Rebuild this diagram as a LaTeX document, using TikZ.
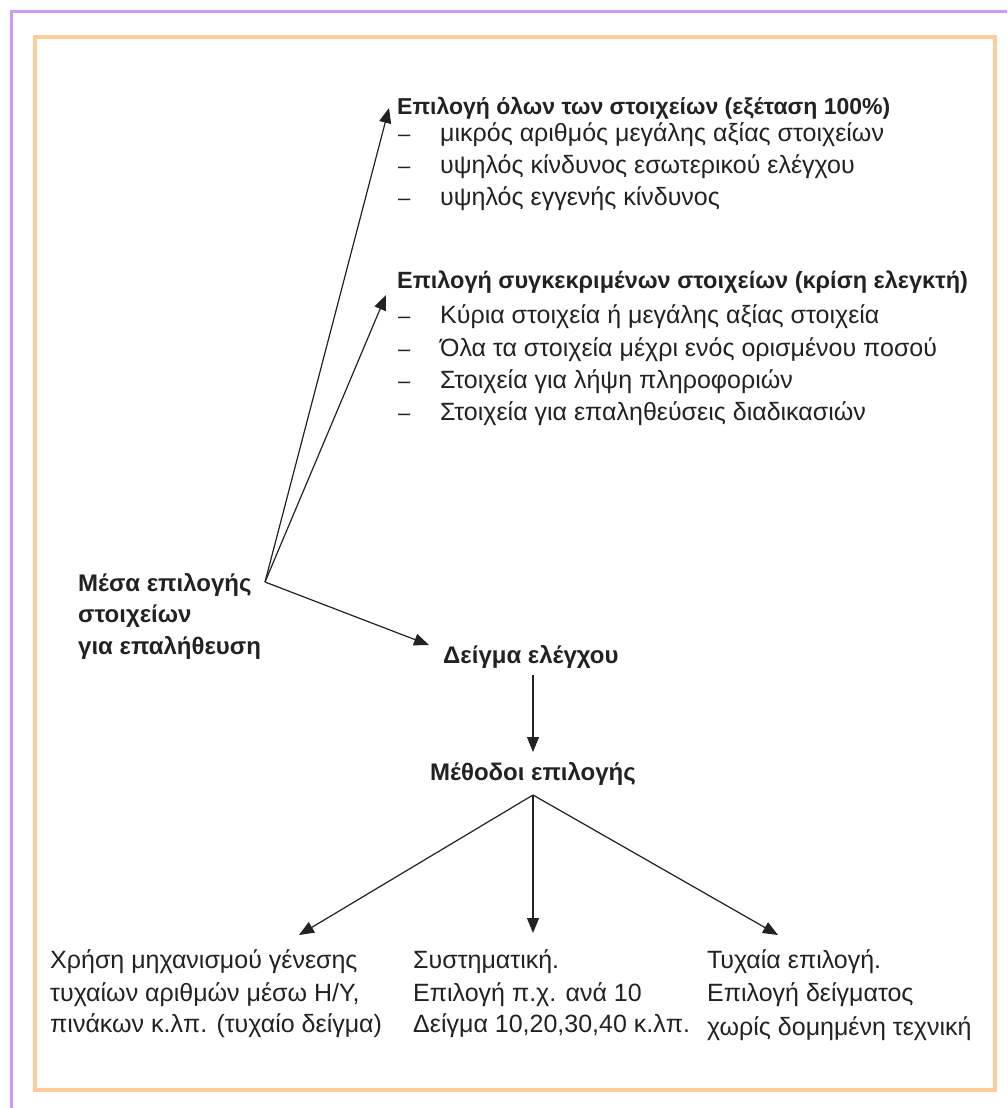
\documentclass[tikz,border=0pt]{standalone}
\usepackage{fontspec}
\setmainfont{Liberation Sans}
\usetikzlibrary{arrows.meta}
\definecolor{purp}{HTML}{CC99FF}
\definecolor{oran}{HTML}{FFCB99}
\definecolor{ink}{HTML}{222222}
\begin{document}
\begin{tikzpicture}[x=1pt,y=-1pt,
  reg/.style={inner sep=0pt, anchor=base west, text=ink, font=\fontsize{25}{30}\selectfont},
  hd/.style={inner sep=0pt, anchor=base west, text=ink, font=\fontsize{24}{28}\selectfont\bfseries},
  ttl/.style={inner sep=0pt, anchor=base west, text=ink, font=\fontsize{23.5}{28}\selectfont\bfseries},
  dashmark/.style={inner sep=0pt, anchor=base west, text=ink, font=\fontsize{22}{26}\selectfont},
  arr/.style={-{Triangle[length=15pt,width=12pt]}, line width=1.2pt, draw=ink}]
\useasboundingbox (0,0) rectangle (1007,1108);
\fill[white] (0,0) rectangle (1007,1108);
% frames
\draw[purp, line width=3pt] (11,1108) -- (11,12) -- (1007,12);
\draw[oran, line width=3.5pt] (35,37) rectangle (995,1090);
% block 1
\node[ttl, font=\fontsize{23}{28}\selectfont\bfseries] (t1) at (397,114) {Επιλογή όλων των στοιχείων (εξέταση 100\%)};
\foreach \y/\s [count=\i] in {141/μικρός αριθμός μεγάλης αξίας στοιχείων,
  173/υψηλός κίνδυνος εσωτερικού ελέγχου,
  205/υψηλός εγγενής κίνδυνος}{
  \node[dashmark] (d1\i) at (398,\y) {–};
  \node[reg] (l1\i) at (440,\y) {\s};
}
% block 2
\node[ttl] (t2) at (397,288) {Επιλογή συγκεκριμένων στοιχείων (κρίση ελεγκτή)};
\foreach \y/\s [count=\i] in {323/Κύρια στοιχεία ή μεγάλης αξίας στοιχεία,
  356/Όλα τα στοιχεία μέχρι ενός ορισμένου ποσού,
  388/Στοιχεία για λήψη πληροφοριών,
  420/Στοιχεία για επαληθεύσεις διαδικασιών}{
  \node[dashmark] (d2\i) at (398,\y) {–};
  \node[reg] (l2\i) at (440,\y) {\s};
}
% left block
\node[hd] (m1) at (78,591) {Μέσα επιλογής};
\node[hd] (m2) at (78,622) {στοιχείων};
\node[hd] (m3) at (78,654) {για επαλήθευση};
\coordinate (v) at (265,582);
% sample
\node[hd] (ds) at (443,663) {Δείγμα ελέγχου};
\node[hd] (mo) at (430,780) {Μέθοδοι επιλογής};
% bottom blocks
\node[reg] (a1) at (50,968) {Χρήση μηχανισμού γένεσης};
\node[reg] (a2) at (50,1001) {τυχαίων αριθμών μέσω Η/Υ,};
\node[reg] (a3) at (50,1032) {πινάκων κ.λπ. (τυχαίο δείγμα)};
\node[reg] (b1) at (413,968) {Συστηματική.};
\node[reg] (b2) at (413,1001) {Επιλογή π.χ. ανά 10};
\node[reg] (b3) at (413,1032) {Δείγμα 10,20,30,40 κ.λπ.};
\node[reg] (c1) at (707,968) {Τυχαία επιλογή.};
\node[reg] (c2) at (707,1001) {Επιλογή δείγματος};
\node[reg] (c3) at (707,1035) {χωρίς δομημένη τεχνική};
% arrows
\coordinate (tip1) at (389,108);
\coordinate (tip2) at (386,295);
\coordinate (tip3) at (429,645);
\draw[arr] (v) -- (tip1);
\draw[arr] (v) -- (tip2);
\draw[arr] (v) -- (tip3);
\coordinate (dsb) at (533,675);
\coordinate (mot) at (533,752);
\draw[arr] (dsb) -- (mot);
\coordinate (mob) at (533,795);
\coordinate (ta) at (299,935);
\coordinate (tb) at (533,933);
\coordinate (tc) at (778,935);
\draw[arr] (mob) -- (ta);
\draw[arr] (mob) -- (tb);
\draw[arr] (mob) -- (tc);
\end{tikzpicture}
\end{document}
